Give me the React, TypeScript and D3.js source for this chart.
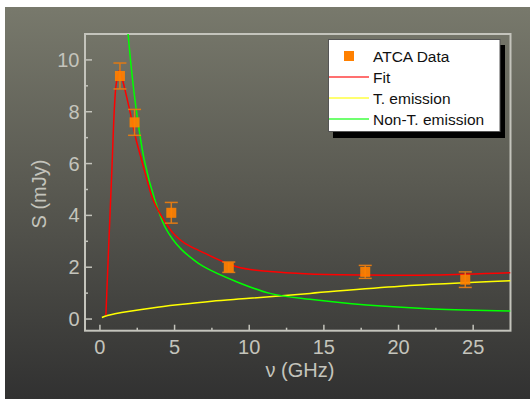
import React from 'react'
import * as d3 from 'd3'

const width = 530
const height = 399

// ATCA measurements: frequency (GHz), flux (mJy), error (mJy)
const freq = [1.34, 2.32, 4.78, 8.63, 17.77, 24.47]
const flux = [9.38, 7.59, 4.1, 2.0, 1.82, 1.52]
const fluxErr = [0.5, 0.5, 0.4, 0.2, 0.25, 0.3]

// curves: [GHz, mJy]
const fitCurve: [number, number][] = [
  [0.4, 0.15], [0.6, 3.0], [0.8, 5.75], [0.98, 8.26], [1.1, 9.1], [1.32, 9.6],
  [1.55, 9.15], [1.99, 8.07], [2.43, 6.91], [2.79, 6.14], [3.15, 5.37],
  [3.57, 4.59], [4.35, 3.76], [5.02, 3.24], [5.69, 2.92], [6.58, 2.66],
  [9.15, 2.02], [11.39, 1.83], [14.07, 1.74], [17.86, 1.7], [22.3, 1.7], [27.5, 1.79]
]
const thermalCurve: [number, number][] = [
  [0.13, 0.06], [0.5, 0.14], [1, 0.2], [2, 0.3], [3.5, 0.43], [5.2, 0.55],
  [7.5, 0.69], [10, 0.8], [14.07, 0.99], [20.1, 1.27], [27.5, 1.48]
]
const nonThermalCurve: [number, number][] = [
  [1.88, 11.03], [2.32, 8.58], [2.97, 6.14], [3.68, 4.59], [4.35, 3.56],
  [4.91, 3.05], [5.47, 2.68], [6.2, 2.32], [6.92, 2.03], [9.15, 1.44], [11.39, 0.99],
  [14.07, 0.76], [17.86, 0.54], [22.3, 0.39], [27.5, 0.31]
]

const xTicks = [0, 5, 10, 15, 20, 25]
const xMinor = [2.5, 7.5, 12.5, 17.5, 22.5]
const yTicks = [0, 2, 4, 6, 8, 10]
const yMinor = [1, 3, 5, 7, 9]

const legendItems = ['ATCA Data', 'Fit', 'T. emission', 'Non-T. emission']

const left = 85
const right = 510.5
const top = 34
const bottom = 330.7

const x = d3.scaleLinear().domain([-1, 27.5]).range([left, right])
const y = d3.scaleLinear().domain([-0.45, 11]).range([bottom, top])

const line = d3.line<[number, number]>()
  .x(d => x(d[0]))
  .y(d => y(d[1]))
  .curve(d3.curveCatmullRom.alpha(0.5))

const axisColor = '#c4c4bc'
const font = 'Liberation Sans, Arial, sans-serif'

export default function App() {
  return (
    <svg width={width} height={height}
      style={{ position: 'absolute', left: 0, top: 0, display: 'block', background: '#fff' }}>
      <defs>
        <linearGradient id="bg" x1="0" y1="0" x2="0" y2="1">
          <stop offset="0%" stopColor="#78796c" />
          <stop offset="45%" stopColor="#5a5a52" />
          <stop offset="100%" stopColor="#313131" />
        </linearGradient>
        <clipPath id="plot">
          <rect x={left} y={top} width={right - left} height={bottom - top} />
        </clipPath>
      </defs>
      <rect x={5} y={7} width={width - 5} height={height - 7} fill="url(#bg)" />

      {/* frame */}
      <rect x={left} y={top} width={right - left} height={bottom - top}
        fill="none" stroke={axisColor} strokeWidth={2} />

      {/* ticks */}
      {xTicks.map(t => (
        <g key={'xt' + t}>
          <line x1={x(t)} x2={x(t)} y1={bottom} y2={bottom - 6} stroke={axisColor} strokeWidth={1.5} />
          <text x={x(t)} y={354} fill={axisColor} fontSize={20} fontFamily={font} textAnchor="middle">{t}</text>
        </g>
      ))}
      {xMinor.map(t => (
        <line key={'xm' + t} x1={x(t)} x2={x(t)} y1={bottom} y2={bottom - 3} stroke={axisColor} strokeWidth={1.5} />
      ))}
      {yTicks.map(t => (
        <g key={'yt' + t}>
          <line x1={left} x2={left + 7} y1={y(t)} y2={y(t)} stroke={axisColor} strokeWidth={1.5} />
          <text x={79.5} y={y(t) + 7} fill={axisColor} fontSize={20} fontFamily={font} textAnchor="end">{t}</text>
        </g>
      ))}
      {yMinor.map(t => (
        <line key={'ym' + t} x1={left} x2={left + 3} y1={y(t)} y2={y(t)} stroke={axisColor} strokeWidth={1.5} />
      ))}

      {/* axis titles */}
      <text x={300} y={377} fill={axisColor} fontSize={20} fontFamily={font} textAnchor="middle">ν (GHz)</text>
      <text transform="translate(46,194) rotate(-90)" fill={axisColor} fontSize={20} fontFamily={font}
        textAnchor="middle">S (mJy)</text>

      {/* curves */}
      <g clipPath="url(#plot)" fill="none" strokeWidth={1.5}>
        <path d={line(thermalCurve) || ''} stroke="#ffff00" />
        <path d={line(nonThermalCurve) || ''} stroke="#00ff00" />
        <path d={line(fitCurve) || ''} stroke="#ff0000" />
      </g>

      {/* data with error bars */}
      {freq.map((f, i) => {
        const cx = x(f)
        const hi = y(flux[i] + fluxErr[i])
        const lo = y(flux[i] - fluxErr[i])
        return (
          <g key={'p' + i}>
            <line x1={cx} x2={cx} y1={hi} y2={lo} stroke="#e07a14" strokeWidth={1.5} />
            <line x1={cx - 6.5} x2={cx + 6.5} y1={hi} y2={hi} stroke="#e07a14" strokeWidth={1.5} />
            <line x1={cx - 6.5} x2={cx + 6.5} y1={lo} y2={lo} stroke="#e07a14" strokeWidth={1.5} />
            <rect x={cx - 5} y={y(flux[i]) - 5} width={10} height={10} fill="#ff8000" fillOpacity={0.92} />
          </g>
        )
      })}

      {/* legend */}
      <g fontFamily={font} fontSize={15.5}>
        <rect x={333} y={45} width={172} height={93} fill="#000" />
        <rect x={328.5} y={39.5} width={171.5} height={92} fill="#fff" stroke="#555" strokeWidth={1} />
        {legendItems.map((name, i) => {
          const ly = 56 + i * 21
          const stroke = ['#ff8000', '#ff4040', '#ffff40', '#40ff40'][i]
          return (
            <g key={name}>
              {i === 0
                ? <rect x={344} y={ly - 5} width={10} height={10} fill={stroke} />
                : <line x1={329} x2={369} y1={ly} y2={ly} stroke={stroke} strokeWidth={1.5} />}
              <text x={373} y={ly + 5.5} fill="#111">{name}</text>
            </g>
          )
        })}
      </g>
    </svg>
  )
}
